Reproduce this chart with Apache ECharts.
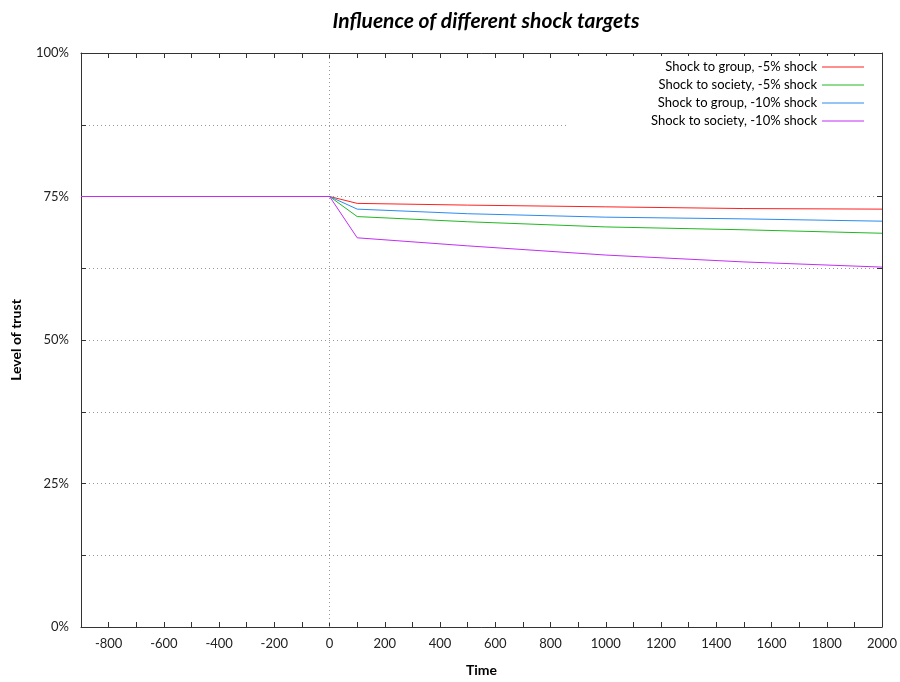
<!DOCTYPE html>
<html>
<head>
<meta charset="utf-8">
<script src="https://cdn.jsdelivr.net/npm/echarts@6/dist/echarts.min.js"></script>
<style>html,body{margin:0;padding:0;background:#fff}#c{width:900px;height:682px}</style>
</head>
<body>
<div id="c"></div>
<script>
const titleText = 'Influence of different shock targets';
const xName = 'Time';
const yName = 'Level of trust';
const time = [-900, 0, 100, 500, 1000, 1500, 2000];
const seriesNames = ['Shock to group, -5% shock', 'Shock to society, -5% shock', 'Shock to group, -10% shock', 'Shock to society, -10% shock'];
const groupMinus5 = [75, 75, 73.8, 73.5, 73.2, 72.9, 72.8];
const societyMinus5 = [75, 75, 71.5, 70.6, 69.7, 69.2, 68.6];
const groupMinus10 = [75, 75, 72.8, 72.0, 71.4, 71.1, 70.7];
const societyMinus10 = [75, 75, 67.8, 66.4, 64.8, 63.6, 62.7];
const colors = ['#ff2020', '#20b820', '#2a8cf0', '#c42cf5'];
const yTickLabels = {0: '0%', 25: '25%', 50: '50%', 75: '75%', 100: '100%'};

const allValues = [groupMinus5, societyMinus5, groupMinus10, societyMinus10];
const font = 'Lato, "Open Sans", sans-serif';

const series = allValues.map((vals, k) => ({
  name: seriesNames[k],
  type: 'line',
  symbol: 'none',
  data: time.map((t, i) => [t, vals[i]]),
  lineStyle: {width: 1, color: colors[k]},
  itemStyle: {color: colors[k]},
  z: 3 + k
}));
series[0].markLine = {
  silent: true, symbol: 'none', label: {show: false},
  lineStyle: {type: [1, 3], color: '#999', width: 1},
  data: [{xAxis: 0}]
};

const chart = echarts.init(document.getElementById('c'));
chart.setOption({
  animation: false,
  backgroundColor: '#fff',
  title: {
    text: titleText, left: 481, top: 6, textAlign: 'center',
    textStyle: {fontFamily: font, fontSize: 21, fontWeight: 'bold', fontStyle: 'italic', color: '#000'}
  },
  legend: {
    orient: 'vertical', right: 18, top: 56, align: 'right',
    icon: 'rect', itemWidth: 42, itemHeight: 1, itemGap: 4,
    padding: [4, 18, 5, 83],
    backgroundColor: '#fff',
    textStyle: {fontFamily: font, fontSize: 13, color: '#000', lineHeight: 14},
    data: seriesNames
  },
  grid: {left: 81, right: 18, top: 53, bottom: 55, outerBoundsMode: 'none', containLabel: false},
  xAxis: [{
    type: 'value', min: -900, max: 2000, interval: 100,
    name: xName, nameLocation: 'middle', nameGap: 36,
    nameTextStyle: {fontFamily: font, fontSize: 14, fontWeight: 'bold', color: '#000'},
    axisLine: {show: true, onZero: false, lineStyle: {color: '#333', width: 1}},
    axisTick: {show: true, inside: true, length: 5, lineStyle: {color: '#333'}},
    axisLabel: {
      margin: 10, fontFamily: font, fontSize: 13, color: '#222',
      formatter: v => (v % 200 === 0 ? String(v) : ''), showMinLabel: true, showMaxLabel: true
    },
    splitLine: {show: false}
  }, {
    type: 'value', position: 'top', min: -900, max: 2000, interval: 100,
    axisLine: {show: true, onZero: false, lineStyle: {color: '#333', width: 1}},
    axisTick: {show: true, inside: true, length: 5, lineStyle: {color: '#333'}},
    axisLabel: {show: false}, splitLine: {show: false}
  }],
  yAxis: [{
    type: 'value', min: 0, max: 100, interval: 12.5,
    name: yName, nameLocation: 'middle', nameGap: 58, nameRotate: 90,
    nameTextStyle: {fontFamily: font, fontSize: 14, fontWeight: 'bold', color: '#000'},
    axisLine: {show: true, onZero: false, lineStyle: {color: '#333', width: 1}},
    axisTick: {show: true, inside: true, length: 5, lineStyle: {color: '#333'}},
    axisLabel: {
      margin: 12, fontFamily: font, fontSize: 13, color: '#222',
      formatter: v => (yTickLabels[v] !== undefined ? yTickLabels[v] : '')
    },
    splitLine: {show: true, lineStyle: {type: [1, 3], color: '#999', width: 1}}
  }, {
    type: 'value', position: 'right', min: 0, max: 100, interval: 12.5,
    axisLine: {show: true, onZero: false, lineStyle: {color: '#333', width: 1}},
    axisTick: {show: true, inside: true, length: 5, lineStyle: {color: '#333'}},
    axisLabel: {show: false}, splitLine: {show: false}
  }],
  series: series
});
</script>
</body>
</html>
